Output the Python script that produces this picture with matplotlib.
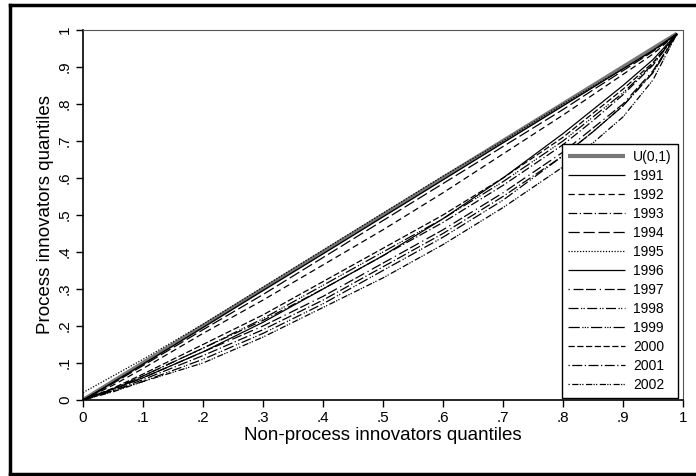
import numpy as np
import matplotlib
matplotlib.use("Agg")
import matplotlib.pyplot as plt
from matplotlib.lines import Line2D

plt.rcParams['font.family'] = ['Liberation Sans', 'DejaVu Sans']

# quantile grid of the non-process innovators
x_q = [0, .05, .1, .2, .3, .4, .5, .6, .7, .8, .85, .9, .95, .99]

# quantiles of process innovators, per year
years = ['1991', '1992', '1993', '1994', '1995', '1996',
         '1997', '1998', '1999', '2000', '2001', '2002']
y_q = {
    '1991': [0, .048, .097, .196, .296, .395, .495, .595, .695, .795, .845, .895, .945, .99],
    '1992': [0, .040, .085, .180, .270, .365, .460, .560, .665, .770, .825, .880, .935, .99],
    '1993': [0, .030, .065, .140, .215, .300, .390, .480, .580, .690, .755, .825, .905, .99],
    '1994': [0, .045, .093, .190, .285, .385, .485, .585, .685, .785, .838, .890, .942, .99],
    '1995': [.02, .065, .110, .205, .305, .405, .505, .605, .700, .800, .848, .895, .943, .99],
    '1996': [0, .030, .060, .130, .210, .300, .390, .490, .600, .720, .785, .850, .920, .99],
    '1997': [0, .028, .060, .130, .200, .280, .370, .460, .560, .670, .735, .800, .890, .99],
    '1998': [0, .025, .050, .110, .180, .260, .350, .440, .540, .660, .725, .795, .885, .99],
    '1999': [0, .030, .065, .140, .220, .310, .400, .490, .590, .700, .765, .830, .908, .99],
    '2000': [0, .032, .070, .150, .230, .320, .410, .500, .600, .710, .775, .840, .912, .99],
    '2001': [0, .025, .055, .120, .190, .270, .360, .450, .550, .660, .725, .795, .885, .99],
    '2002': [0, .022, .050, .100, .170, .250, .330, .420, .520, .630, .695, .765, .865, .99],
}

# Stata-like line patterns
styles = {
    '1991': (0, ()),
    '1992': (0, (5, 3)),
    '1993': (0, (7, 2, 1, 2)),
    '1994': (0, (9, 3)),
    '1995': (0, (1, 1.3)),
    '1996': (0, ()),
    '1997': (0, (1, 3, 8, 2, 8, 3)),
    '1998': (0, (8, 2, 1, 1, 1, 2)),
    '1999': (0, (9, 2, 1, 1, 1, 1, 1, 2)),
    '2000': (0, (5, 2)),
    '2001': (0, (1, 2, 8, 2)),
    '2002': (0, (1, 2, 5, 1, 1, 1)),
}

fig = plt.figure(figsize=(6.96, 4.76), dpi=100)
ax = fig.add_axes([83 / 696, 76 / 476, 600 / 696, 370 / 476])

ax.plot([0, .99], [0, .99], color='#777777', lw=3, label='U(0,1)',
        solid_capstyle='butt')
for yr in years:
    ax.plot(x_q, y_q[yr], color='black', lw=0.9, linestyle=styles[yr], label=yr)

ax.set_xlim(0, 1)
ax.set_ylim(0, 1)
ticks = np.round(np.arange(0, 1.01, 0.1), 1)
labels = ['0'] + ['.%d' % i for i in range(1, 10)] + ['1']
ax.set_xticks(ticks)
ax.set_xticklabels(labels)
ax.set_yticks(ticks)
ax.set_yticklabels(labels, rotation=90, va='center')
ax.tick_params(direction='out', length=5, width=1, labelsize=11, pad=3)

for side in ['left', 'bottom']:
    ax.spines[side].set_linewidth(1.2)
for side in ['top', 'right']:
    ax.spines[side].set_color('#555555')
    ax.spines[side].set_linewidth(0.8)

ax.set_xlabel('Non-process innovators quantiles', fontsize=13.5, labelpad=1.5)
ax.set_ylabel('Process innovators quantiles', fontsize=13.5, labelpad=3)

leg = ax.legend(loc='lower right', bbox_to_anchor=(0.992, 0.005),
                borderaxespad=0, fontsize=10, handlelength=4.1,
                labelspacing=0.36, fancybox=False, framealpha=1,
                edgecolor='black', borderpad=0.45, handletextpad=0.6)
leg.get_frame().set_linewidth(1)

# outer graph frame
fig.add_artist(Line2D([10 / 696, 10 / 696], [2 / 476, 471 / 476], color='black', lw=2.5))
fig.add_artist(Line2D([10 / 696, 1], [471 / 476, 471 / 476], color='black', lw=2.5))
fig.add_artist(Line2D([10 / 696, 1], [2 / 476, 2 / 476], color='black', lw=2.5))

fig.savefig('out.png', dpi=100)
